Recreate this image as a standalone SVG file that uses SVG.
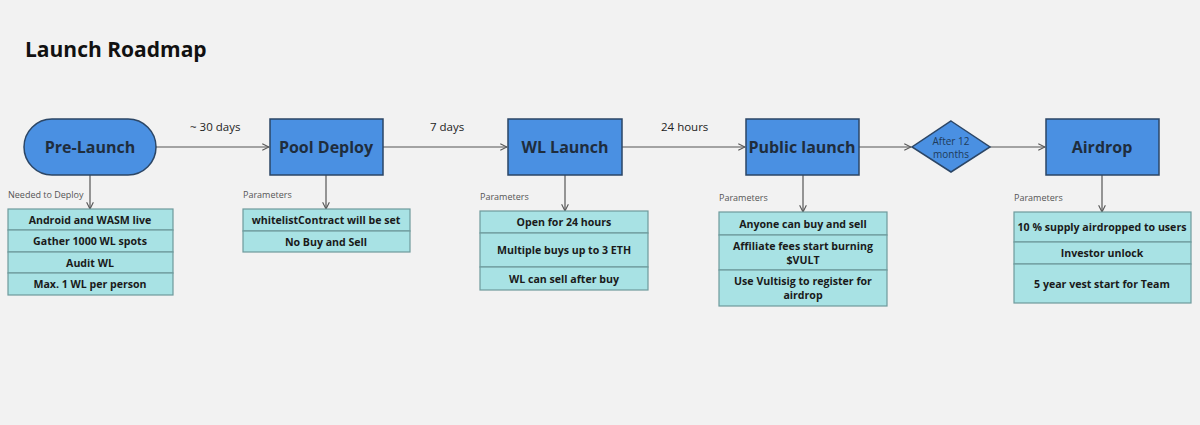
<svg xmlns="http://www.w3.org/2000/svg" width="1200" height="425" viewBox="0 0 1200 425">
<style>
.n{fill:#4a90e2;stroke:#2b4666;stroke-width:1.5}
.nt{font-family:"Open Sans",sans-serif;font-weight:700;font-size:16px;fill:#1f2d3d;text-anchor:middle}
.r{fill:#a8e2e4;stroke:#6e9a9c;stroke-width:1.2}
.rt{font-family:"Open Sans",sans-serif;font-weight:700;font-size:10.6px;fill:#1a1a1a;text-anchor:middle}
.p{font-family:"Open Sans",sans-serif;font-size:9px;fill:#555}
.el{font-family:"Open Sans",sans-serif;font-size:11.5px;fill:#222}
.c{stroke:#555;stroke-width:1.2;fill:none;marker-end:url(#a)}
</style>
<defs><marker id="a" viewBox="0 0 10 10" refX="9" refY="5" markerWidth="7" markerHeight="7" orient="auto"><path d="M1,1 L9,5 L1,9" fill="none" stroke="#555" stroke-width="1.3"/></marker></defs>
<rect width="1200" height="425" fill="#f2f2f2"/>
<text x="25" y="57" font-family="Open Sans,sans-serif" font-weight="700" font-size="21" fill="#111">Launch Roadmap</text>
<g id="connectors">
<path class="c" d="M156,147 H269"/><path class="c" d="M383,147 H507"/><path class="c" d="M622,147 H745"/><path class="c" d="M859,147 H911"/><path class="c" d="M990,147 H1045"/>
<path class="c" d="M90,175 V209"/><path class="c" d="M326,175 V209"/><path class="c" d="M565,175 V211"/><path class="c" d="M803,175 V212"/><path class="c" d="M1102,175 V212"/>
<text class="el" x="190" y="131">~ 30 days</text><text class="el" x="430" y="131">7 days</text><text class="el" x="661" y="131">24 hours</text>
</g>
<g id="prelaunch"><rect class="n" x="24" y="119" width="132" height="56" rx="28"/><text class="nt" x="90" y="153">Pre-Launch</text>
<text class="p" x="8" y="198">Needed to Deploy</text>
<rect class="r" x="8" y="209" width="165" height="21"/><rect class="r" x="8" y="230" width="165" height="22"/><rect class="r" x="8" y="252" width="165" height="21"/><rect class="r" x="8" y="273" width="165" height="22"/>
<text class="rt" x="90" y="224">Android and WASM live</text><text class="rt" x="90" y="245">Gather 1000 WL spots</text><text class="rt" x="90" y="267">Audit WL</text><text class="rt" x="90" y="288">Max. 1 WL per person</text></g>
<g id="pooldeploy"><rect class="n" x="270" y="119" width="113" height="56"/><text class="nt" x="326" y="153">Pool Deploy</text>
<text class="p" x="243" y="198">Parameters</text>
<rect class="r" x="243" y="209" width="167" height="22"/><rect class="r" x="243" y="231" width="167" height="21"/>
<text class="rt" x="326" y="224">whitelistContract will be set</text><text class="rt" x="326" y="246">No Buy and Sell</text></g>
<g id="wllaunch"><rect class="n" x="508" y="119" width="114" height="56"/><text class="nt" x="565" y="153">WL Launch</text>
<text class="p" x="480" y="200">Parameters</text>
<rect class="r" x="480" y="211" width="168" height="22"/><rect class="r" x="480" y="233" width="168" height="34"/><rect class="r" x="480" y="267" width="168" height="23"/>
<text class="rt" x="564" y="226">Open for 24 hours</text><text class="rt" x="564" y="254">Multiple buys up to 3 ETH</text><text class="rt" x="564" y="283">WL can sell after buy</text></g>
<g id="publiclaunch"><rect class="n" x="746" y="119" width="113" height="56"/><text class="nt" x="802" y="153">Public launch</text>
<text class="p" x="719" y="201">Parameters</text>
<rect class="r" x="719" y="212" width="168" height="23"/><rect class="r" x="719" y="235" width="168" height="35"/><rect class="r" x="719" y="270" width="168" height="36"/>
<text class="rt" x="803" y="228">Anyone can buy and sell</text><text class="rt" x="803" y="250">Affiliate fees start burning</text><text class="rt" x="803" y="264">$VULT</text><text class="rt" x="803" y="285">Use Vultisig to register for</text><text class="rt" x="803" y="299">airdrop</text></g>
<g id="after12"><path class="n" d="M951,121 L990,147 L951,172 L912,147 Z"/>
<text x="951" y="145" font-family="Open Sans,sans-serif" font-size="10" fill="#1f3b5a" text-anchor="middle">After 12</text><text x="951" y="158" font-family="Open Sans,sans-serif" font-size="10" fill="#1f3b5a" text-anchor="middle">months</text></g>
<g id="airdrop"><rect class="n" x="1046" y="119" width="113" height="56"/><text class="nt" x="1102" y="153">Airdrop</text>
<text class="p" x="1014" y="201">Parameters</text>
<rect class="r" x="1014" y="212" width="177" height="30"/><rect class="r" x="1014" y="242" width="177" height="22"/><rect class="r" x="1014" y="264" width="177" height="39"/>
<text class="rt" x="1102" y="231">10 % supply airdropped to users</text><text class="rt" x="1102" y="257">Investor unlock</text><text class="rt" x="1102" y="288">5 year vest start for Team</text></g>
</svg>
